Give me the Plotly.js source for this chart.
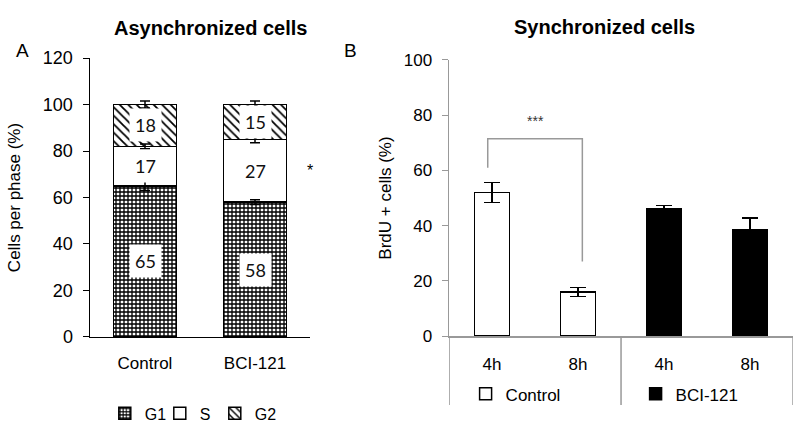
<!DOCTYPE html>
<html>
<head>
<meta charset="utf-8">
<script src="https://cdn.plot.ly/plotly-3.0.1.min.js"></script>
<style>html,body{margin:0;padding:0;background:#fff;}#chart{width:800px;height:424px;}</style>
</head>
<body>
<div id="chart"></div>
<script>
// Panel A: asynchronized cells (stacked % per phase)
var groupsA = ["Control", "BCI-121"];
var g1 = [65, 58];
var g1Err = [2, 1];
var sPhase = [17, 27];
var sErr = [1, 1.5];
var g2 = [18, 15];
var g2Err = [1.5, 1.5];

// Panel B: synchronized cells (BrdU+ %)
var timeLabels = ["4h", "8h"];
var controlB = [52, 16];
var controlErr = [3.7, 1.6];
var bciB = [46, 38.5];
var bciErr = [1.2, 4.2];

var FONT = "Liberation Sans, Arial, sans-serif";
var xA = [0, 1];
var xCtrl = [0, 1];
var xBci = [2, 3];

function cum(a, b) { return a.map(function (v, i) { return v + (b ? b[i] : 0); }); }
var topG1 = g1.slice();
var topS = cum(g1, sPhase);
var topG2 = cum(topS, g2);

var traces = [
  {type: "bar", x: xA, y: g1, name: "G1", xaxis: "x", yaxis: "y", width: 0.57,
   marker: {color: "white", line: {color: "black", width: 1.5},
            pattern: {shape: "+", fgcolor: "black", bgcolor: "white", size: 4, solidity: 0.55}},
   showlegend: true, legend: "legend", hoverinfo: "skip"},
  {type: "bar", x: xA, y: sPhase, name: "S", xaxis: "x", yaxis: "y", width: 0.57,
   marker: {color: "white", line: {color: "black", width: 1.5}},
   showlegend: true, legend: "legend", hoverinfo: "skip"},
  {type: "bar", x: xA, y: g2, name: "G2", xaxis: "x", yaxis: "y", width: 0.57,
   marker: {color: "white", line: {color: "black", width: 1.5},
            pattern: {shape: "\\", fgcolor: "black", bgcolor: "white", size: 6, solidity: 0.3}},
   showlegend: true, legend: "legend", hoverinfo: "skip"},
  // invisible spacer entry so the last legend label is not clipped
  {type: "bar", x: [null], y: [null], name: " ", xaxis: "x", yaxis: "y",
   marker: {color: "rgba(0,0,0,0)", line: {width: 0}}, showlegend: true, legend: "legend", hoverinfo: "skip"},
  // error bars at the stacked tops
  {type: "scatter", mode: "markers", x: xA.concat(xA).concat(xA),
   y: topG1.concat(topS).concat(topG2), xaxis: "x", yaxis: "y",
   marker: {size: 1, color: "rgba(0,0,0,0)"},
   error_y: {type: "data", array: g1Err.concat(sErr).concat(g2Err), color: "black", thickness: 1.5, width: 5},
   showlegend: false, hoverinfo: "skip"},
  // Panel B
  {type: "bar", x: xCtrl, y: controlB, name: "Control", xaxis: "x2", yaxis: "y2", width: 0.41,
   marker: {color: "white", line: {color: "black", width: 1.5}},
   error_y: {type: "data", array: controlErr, color: "black", thickness: 1.5, width: 8},
   legend: "legend2", hoverinfo: "skip"},
  {type: "bar", x: xBci, y: bciB, name: "BCI-121", xaxis: "x2", yaxis: "y2", width: 0.41,
   marker: {color: "black", line: {color: "black", width: 1.5}},
   error_y: {type: "data", array: bciErr, color: "black", thickness: 1.5, width: 8},
   legend: "legend2", hoverinfo: "skip"}
];

var annotations = [];
function boxLabel(xv, yv, txt) {
  annotations.push({x: xv, y: yv, xref: "x", yref: "y", text: String(txt), showarrow: false,
    bgcolor: "white", borderpad: 5, font: {family: "Lato, sans-serif", size: 18, color: "#111"}});
}
for (var i = 0; i < xA.length; i++) {
  boxLabel(xA[i], g1[i] / 2, g1[i]);
  boxLabel(xA[i], g1[i] + sPhase[i] / 2, sPhase[i]);
  boxLabel(xA[i], topS[i] + g2[i] / 2, g2[i]);
}
annotations.push(
  {x: 0.2625, y: 0.965, xref: "paper", yref: "paper", xanchor: "center", text: "<b>Asynchronized cells</b>", showarrow: false,
   font: {family: FONT, size: 20, color: "black"}},
  {x: 0.756, y: 0.967, xref: "paper", yref: "paper", xanchor: "center", text: "<b>Synchronized cells</b>", showarrow: false,
   font: {family: FONT, size: 20, color: "black"}},
  {x: 0.0275, y: 0.91, xref: "paper", yref: "paper", xanchor: "center", text: "A", showarrow: false,
   font: {family: FONT, size: 19, color: "black"}},
  {x: 0.4375, y: 0.91, xref: "paper", yref: "paper", xanchor: "center", text: "B", showarrow: false,
   font: {family: FONT, size: 19, color: "black"}},
  {x: 1.5, y: topS[1] - sPhase[1] / 2, xref: "x", yref: "y", text: "*", showarrow: false,
   font: {family: FONT, size: 16, color: "black"}},
  {x: 0.5, y: 78, xref: "x2", yref: "y2", text: "***", showarrow: false,
   font: {family: FONT, size: 14, color: "#333"}}
);

var shapes = [
  // significance bracket (panel B)
  {type: "path", xref: "x2", yref: "y2",
   path: "M -0.05,61 L -0.05,71.5 L 1.05,71.5 L 1.05,27",
   line: {color: "#999", width: 1.5}},
  // group dividers under panel B axis
  {type: "line", xref: "x2", yref: "paper", x0: -0.5, x1: -0.5, y0: 0.2075, y1: 0.045, line: {color: "#999", width: 1.5}},
  {type: "line", xref: "x2", yref: "paper", x0: 1.5, x1: 1.5, y0: 0.2075, y1: 0.045, line: {color: "#999", width: 1.5}},
  {type: "line", xref: "x2", yref: "paper", x0: 3.5, x1: 3.5, y0: 0.2075, y1: 0.045, line: {color: "#999", width: 1.5}}
];

var layout = {
  width: 800, height: 424,
  margin: {l: 0, r: 0, t: 0, b: 0, autoexpand: false},
  paper_bgcolor: "white", plot_bgcolor: "white",
  barmode: "stack",
  font: {family: FONT, size: 17, color: "black"},
  xaxis: {domain: [0.1125, 0.3875], range: [-0.5, 1.5], tickvals: xA, ticktext: groupsA,
          showline: true, linecolor: "black", linewidth: 1.5, showgrid: false, zeroline: false,
          ticks: "", ticklabelstandoff: 10, tickfont: {size: 17}, automargin: false},
  yaxis: {domain: [0.2052, 0.8632], range: [0, 120], dtick: 20, showline: true, linecolor: "black",
          linewidth: 1.5, ticks: "outside", ticklen: 6, tickcolor: "black", showgrid: false, zeroline: false,
          tickfont: {size: 18}, automargin: false, ticklabelstandoff: 6,
          title: {text: "Cells per phase (%)", font: {size: 17}, standoff: 18}},
  xaxis2: {domain: [0.5613, 0.9913], range: [-0.5, 3.5], tickvals: xCtrl.concat(xBci),
           ticktext: timeLabels.concat(timeLabels), anchor: "y2", automargin: false,
           showline: true, linecolor: "#999", linewidth: 1.5, showgrid: false, zeroline: false,
           ticks: "", ticklabelstandoff: 12, tickfont: {size: 17}},
  yaxis2: {domain: [0.2075, 0.8585], range: [0, 100], dtick: 20, anchor: "x2", showline: true,
           linecolor: "#999", linewidth: 1.5, ticks: "outside", ticklen: 6, tickcolor: "#999",
           showgrid: false, zeroline: false, tickfont: {size: 17}, automargin: false, ticklabelstandoff: 6,
           title: {text: "BrdU + cells (%)", font: {size: 17}, standoff: 8}},
  legend: {orientation: "h", x: 0.131, xanchor: "left", y: 0.025, yanchor: "middle",
           font: {size: 16}, itemwidth: 30, entrywidth: 10, traceorder: "normal", bgcolor: "rgba(0,0,0,0)"},
  legend2: {orientation: "h", x: 0.582, xanchor: "left", y: 0.07, yanchor: "middle",
            font: {size: 17}, itemwidth: 30, entrywidth: 125, traceorder: "normal", bgcolor: "rgba(0,0,0,0)"},
  annotations: annotations,
  shapes: shapes
};

Plotly.newPlot("chart", traces, layout, {displayModeBar: false, staticPlot: true});
</script>
</body>
</html>
